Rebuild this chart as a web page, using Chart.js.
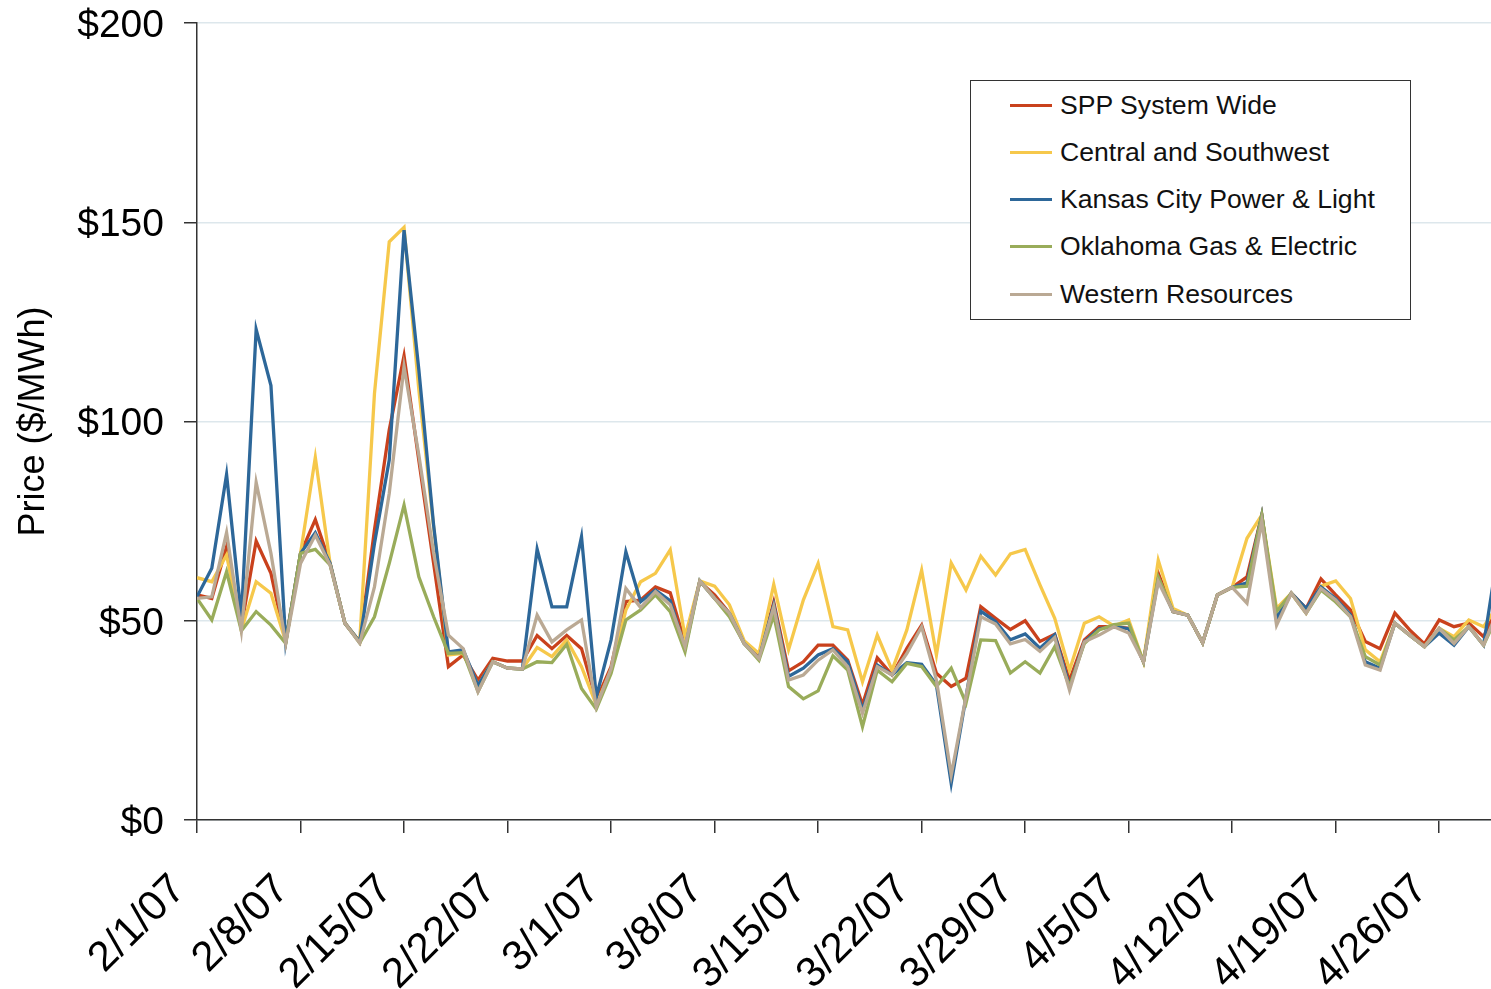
<!DOCTYPE html>
<html lang="en">
<head>
    <meta charset="UTF-8">
    <title>SPP Prices</title>
    <script src="https://cdn.jsdelivr.net/npm/chart.js"></script>
    <style>
        body { margin: 0; background: #fff; }
        #wrap { position: relative; width: 1491px; height: 989px; }
        #legend {
            position: absolute; left: 970px; top: 80px; width: 439px; height: 238px;
            border: 1px solid #333; background: #fff;
            font-family: "Liberation Sans", Arial, sans-serif; font-size: 26.6px; color: #111;
        }
        #legend .row { position: absolute; left: 0; height: 30px; display: flex; align-items: center; }
        #legend .swatch { width: 42px; height: 3px; margin-left: 39px; margin-right: 8px; }
    </style>
</head>
<body>
<div id="wrap">
    <canvas id="myChart" width="1491" height="989"></canvas>
    <div id="legend"></div>
</div>

<script>
// tick labels, one every 7 days starting 2/1/07
const tickLabels = ['2/1/07', '2/8/07', '2/15/07', '2/22/07', '3/1/07', '3/8/07', '3/15/07',
    '3/22/07', '3/29/07', '4/5/07', '4/12/07', '4/19/07', '4/26/07'];

const seriesNames = ['SPP System Wide', 'Central and Southwest', 'Kansas City Power & Light',
    'Oklahoma Gas & Electric', 'Western Resources'];

// daily prices ($/MWh), 2/1/07 .. 4/30/07
const spp = [56.5, 55.6, 68.6, 48.5, 70.0, 61.9, 44.7, 66.9, 75.4, 64.4,
    49.4, 44.7, 72.8, 97.9, 116.5, 90.3, 64.4, 38.5, 41.4, 35.1,
    40.6, 39.9, 39.9, 46.3, 43.0, 46.3, 43.0, 30.1, 38.5, 54.8,
    55.2, 58.5, 57.0, 44.5, 59.8, 56.5, 51.9, 44.3, 40.8, 54.7,
    37.4, 39.7, 43.9, 43.9, 40.1, 28.9, 40.7, 36.4, 43.1, 48.9,
    36.8, 33.5, 35.6, 53.5, 50.6, 47.8, 50.0, 44.8, 46.6, 35.1,
    45.2, 48.5, 48.5, 48.1, 39.7, 61.9, 52.3, 51.4, 44.5, 56.5,
    58.4, 61.0, 76.5, 50.2, 56.9, 53.1, 60.5, 56.5, 52.7, 44.8,
    43.0, 51.9, 47.7, 44.2, 50.2, 48.5, 49.4, 46.0, 54.0];

const csw = [60.8, 59.8, 66.5, 47.7, 59.8, 56.9, 44.7, 66.9, 91.0, 64.4,
    49.4, 44.7, 107.0, 145.1, 148.7, 108.0, 73.6, 41.4, 41.8, 33.8,
    39.7, 38.1, 37.9, 43.3, 41.0, 45.2, 38.5, 28.9, 37.6, 52.7,
    59.8, 61.9, 67.8, 46.0, 60.0, 58.7, 54.0, 45.0, 41.8, 59.1,
    42.7, 55.2, 64.4, 48.5, 47.7, 34.7, 46.4, 37.6, 47.7, 62.7,
    41.4, 64.5, 57.7, 66.2, 61.5, 66.8, 67.9, 59.0, 50.6, 37.6,
    49.4, 51.0, 48.7, 50.2, 39.7, 65.2, 53.1, 51.4, 44.5, 56.5,
    58.4, 70.7, 76.5, 53.1, 56.9, 51.9, 58.7, 60.0, 55.6, 42.7,
    39.7, 49.4, 46.4, 43.5, 48.1, 46.0, 50.2, 48.5, 54.0];

const kcpl = [56.0, 63.2, 86.7, 51.0, 123.1, 109.0, 44.7, 66.9, 72.1, 64.4,
    49.4, 44.7, 69.4, 90.3, 148.0, 113.0, 74.0, 42.2, 42.7, 33.8,
    39.7, 38.1, 37.9, 68.0, 53.5, 53.5, 71.1, 30.9, 45.2, 67.3,
    54.8, 57.7, 55.0, 43.0, 60.0, 55.6, 51.9, 44.3, 40.5, 54.0,
    36.0, 38.1, 41.4, 43.0, 39.7, 27.6, 38.9, 36.4, 39.5, 39.1,
    33.9, 9.2, 30.9, 52.4, 49.8, 45.2, 46.7, 43.1, 46.5, 33.5,
    44.7, 48.0, 48.5, 48.0, 39.7, 60.5, 52.3, 51.4, 44.5, 56.5,
    58.4, 59.5, 76.5, 50.6, 56.9, 53.1, 58.5, 55.5, 51.5, 39.7,
    38.1, 49.4, 46.4, 43.5, 46.9, 43.9, 48.5, 43.9, 68.0];

const oge = [55.6, 50.2, 62.3, 47.5, 52.3, 48.9, 44.3, 66.9, 67.9, 64.0,
    49.4, 44.4, 51.0, 64.4, 79.0, 61.0, 51.0, 41.8, 42.0, 32.2,
    39.7, 38.1, 37.9, 39.7, 39.5, 44.1, 33.0, 27.8, 36.8, 50.2,
    52.7, 56.5, 52.3, 42.2, 60.0, 55.6, 51.0, 44.3, 40.1, 51.4,
    33.5, 30.4, 32.4, 41.2, 37.6, 23.4, 37.6, 34.7, 39.3, 38.5,
    33.5, 38.1, 29.3, 45.2, 45.0, 36.9, 39.7, 36.9, 43.5, 33.5,
    44.3, 47.7, 49.0, 49.4, 39.7, 61.0, 52.3, 51.4, 44.5, 56.5,
    58.4, 58.7, 76.5, 52.3, 56.9, 51.9, 57.7, 54.7, 51.0, 41.0,
    38.9, 49.4, 46.4, 43.5, 48.1, 45.2, 48.5, 43.9, 52.0];

const wr = [55.6, 56.0, 72.1, 47.5, 84.7, 66.9, 44.3, 64.4, 71.5, 64.0,
    49.4, 44.4, 58.5, 82.0, 113.8, 91.6, 67.0, 46.4, 43.0, 32.2,
    39.7, 38.1, 37.9, 51.4, 44.7, 47.7, 50.2, 28.4, 38.0, 58.1,
    53.3, 57.3, 54.0, 43.5, 60.0, 55.6, 51.9, 44.3, 40.5, 53.5,
    35.1, 36.4, 40.1, 42.7, 38.5, 26.8, 38.5, 36.4, 41.8, 48.5,
    35.1, 11.3, 31.0, 51.0, 49.2, 44.2, 45.3, 42.3, 45.8, 32.6,
    44.7, 46.4, 48.5, 46.9, 39.7, 59.8, 52.3, 51.4, 44.5, 56.5,
    58.4, 54.4, 74.9, 48.9, 56.9, 51.9, 58.1, 55.2, 51.0, 38.9,
    37.6, 49.4, 46.4, 43.5, 48.1, 44.3, 48.5, 43.9, 53.0];

const colors = ['#c9411c', '#f6c84b', '#2d6799', '#99ac5a', '#baa994'];

const seriesValues = [spp, csw, kcpl, oge, wr];

const datasets = seriesValues.map((vals, k) => ({
    label: seriesNames[k],
    data: vals.map((v, i) => ({ x: i, y: v })),
    borderColor: colors[k],
    backgroundColor: colors[k],
    borderWidth: 3.3,
    pointRadius: 0,
    tension: 0,
    order: 5 - k   // last series drawn on top, like the original
}));

const fontFamily = '"Liberation Sans", Arial, sans-serif';

const config = {
    type: 'line',
    data: { datasets: datasets },
    options: {
        responsive: false,
        animation: false,
        layout: { padding: { top: 23, right: 0, bottom: 0, left: 0 } },
        plugins: {
            legend: { display: false },
            tooltip: { enabled: false }
        },
        scales: {
            x: {
                type: 'linear',
                min: 0,
                max: 87.5,
                afterBuildTicks: (scale) => {
                    scale.ticks = tickLabels.map((t, i) => ({ value: i * 7 }));
                },
                afterFit: (scale) => {
                    scale.height = 169;
                    scale.paddingLeft = 0;
                    scale.paddingRight = 0;
                },
                ticks: {
                    autoSkip: false,
                    maxRotation: 45,
                    minRotation: 45,
                    padding: 32,
                    labelOffset: -18,
                    color: '#000',
                    font: { family: fontFamily, size: 42 },
                    callback: (v) => tickLabels[Math.round(v / 7)]
                },
                grid: {
                    drawOnChartArea: false,
                    drawTicks: true,
                    tickLength: 13,
                    tickColor: '#333',
                    lineWidth: 1.5
                },
                border: { color: '#333', width: 1.5 }
            },
            y: {
                min: 0,
                max: 200,
                afterFit: (scale) => {
                    scale.width = 197;
                    scale.paddingTop = 0;
                    scale.paddingBottom = 0;
                },
                ticks: {
                    stepSize: 50,
                    padding: 20,
                    labelOffset: 3,
                    color: '#000',
                    font: { family: fontFamily, size: 39 },
                    callback: (v) => '$' + v
                },
                grid: {
                    color: '#dde7ec',
                    lineWidth: 1.5,
                    tickColor: '#333',
                    tickLength: 13
                },
                border: { color: '#333', width: 1.5 },
                title: {
                    display: true,
                    text: 'Price ($/MWh)',
                    color: '#000',
                    padding: { top: 12, bottom: 0 },
                    font: { family: fontFamily, size: 36 }
                }
            }
        }
    }
};

const myChart = new Chart(document.querySelector('#myChart'), config);

// html legend built from the chart's datasets
const legend = document.querySelector('#legend');
myChart.data.datasets.forEach((ds, i) => {
    const row = document.createElement('div');
    row.className = 'row';
    row.style.top = (9 + i * 47.3) + 'px';
    const sw = document.createElement('span');
    sw.className = 'swatch';
    sw.style.background = ds.borderColor;
    const txt = document.createElement('span');
    txt.textContent = ds.label;
    row.appendChild(sw);
    row.appendChild(txt);
    legend.appendChild(row);
});
</script>
</body>
</html>
